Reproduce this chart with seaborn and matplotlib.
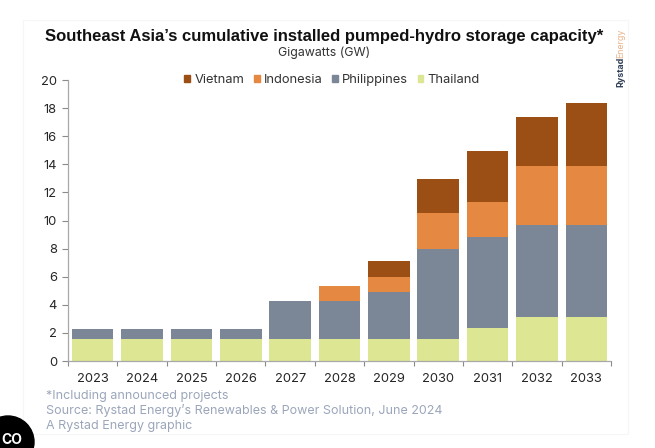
import numpy as np
import pandas as pd
import matplotlib.pyplot as plt
from matplotlib.patches import Patch, Circle, Rectangle
import seaborn as sns

years = [2023, 2024, 2025, 2026, 2027, 2028, 2029, 2030, 2031, 2032, 2033]
thailand = [1.55, 1.55, 1.55, 1.55, 1.55, 1.55, 1.55, 1.55, 2.35, 3.15, 3.15]
philippines = [0.75, 0.75, 0.75, 0.75, 2.75, 2.75, 3.35, 6.45, 6.45, 6.5, 6.5]
indonesia = [0, 0, 0, 0, 0, 1.05, 1.1, 2.55, 2.55, 4.2, 4.2]
vietnam = [0, 0, 0, 0, 0, 0, 1.1, 2.4, 3.6, 3.55, 4.5]

countries = ['Vietnam', 'Indonesia', 'Philippines', 'Thailand']
colors = ['#9c4f14', '#e58842', '#7b8797', '#dde692']

df = pd.DataFrame({'year': years, 'Thailand': thailand, 'Philippines': philippines,
                   'Indonesia': indonesia, 'Vietnam': vietnam})
df = df.melt(id_vars='year', var_name='country', value_name='gw')

sns.set_theme(style='white')
plt.rcParams['font.family'] = ['Inter', 'DejaVu Sans']

W, H = 655, 448
fig = plt.figure(figsize=(W / 100, H / 100), dpi=100, facecolor='white')

def px(x, y):
    return x / W, 1 - y / H

# faint card behind the chart
fig.add_artist(Rectangle(px(23, 434), 605 / W, 414 / H, transform=fig.transFigure,
                         facecolor='white', edgecolor='#f6f6f6', linewidth=0.8, zorder=-1))

ax = fig.add_axes([68 / W, 1 - 361 / H, 543 / W, 281 / H], facecolor='none')
sns.histplot(data=df, x='year', weights='gw', hue='country', hue_order=countries,
             palette=colors, multiple='stack', discrete=True, shrink=0.84,
             alpha=1, edgecolor='none', linewidth=0, legend=False, ax=ax)

ax.set_xlim(2022.5, 2033.5)
ax.set_ylim(0, 20)
ax.set_xticks(years)
ax.set_xticks(np.arange(2022.5, 2034), minor=True)
ax.set_yticks(range(0, 21, 2))
ax.set_xlabel('')
ax.set_ylabel('')
ax.tick_params(axis='x', which='major', length=0, labelsize=9.3, pad=8.5, labelcolor='#262626')
ax.tick_params(axis='x', which='minor', length=3.5, width=0.8, color='#8a8a8a', bottom=True)
ax.tick_params(axis='y', length=4, width=0.8, color='#8a8a8a', left=True, labelsize=9.3,
               pad=4, labelcolor='#262626')
sns.despine(ax=ax)
for s in ['left', 'bottom']:
    ax.spines[s].set_color('#a8a8a8')
    ax.spines[s].set_linewidth(0.9)

handles = [Patch(color=c, label=n) for c, n in zip(colors, countries)]
fig.legend(handles=handles, loc='center', bbox_to_anchor=px(332, 80), ncol=4, frameon=False,
           fontsize=9.3, handlelength=0.46, handleheight=0.5, handletextpad=0.3,
           columnspacing=0.75, labelcolor='#333333')

x, y = px(324, 37)
fig.text(x, y, 'Southeast Asia\u2019s cumulative installed pumped-hydro storage capacity*',
         ha='center', va='center', fontsize=11.95, fontweight='bold', color='#111111',
         family='Liberation Sans')
x, y = px(324, 53)
fig.text(x, y, 'Gigawatts (GW)', ha='center', va='center', fontsize=8.9, color='#333333')

x, y = px(621, 87)
fig.text(x, y, 'Rystad', rotation=90, ha='center', va='bottom', fontsize=6.4, fontweight='bold',
         color='#2f3f56')
x, y = px(621, 58)
fig.text(x, y, 'Energy', rotation=90, ha='center', va='bottom', fontsize=6.4, color='#e9b48a')

notes = ['*Including announced projects',
         'Source: Rystad Energy\u2019s Renewables & Power Solution, June 2024',
         'A Rystad Energy graphic']
for note, ny in zip(notes, [395.5, 410.5, 425.5]):
    x, y = px(46, ny)
    fig.text(x, y, note, ha='left', va='center', fontsize=9.0, color='#9ba6ba')

# round black page button cut off in the corner
overlay = fig.add_axes([0, 0, 1, 1], facecolor='none')
overlay.set_xlim(0, W)
overlay.set_ylim(H, 0)
overlay.axis('off')
overlay.add_patch(Circle((8, 442), 26, color='black'))
overlay.text(1, 440, 'CO', color='white', ha='left', va='center', fontsize=10, fontweight='bold')

fig.savefig('out.png', dpi=100)
